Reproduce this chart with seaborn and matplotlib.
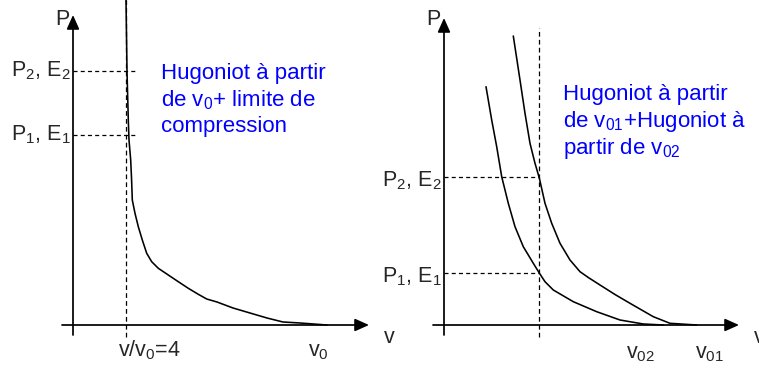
import matplotlib
matplotlib.use("Agg")
import matplotlib.pyplot as plt
import seaborn as sns

# ---- left panel: Hugoniot from v0 with its compression limit ----
hug0_v = [53, 54, 55.3, 56, 57.7, 58.6, 59.3, 62, 65.3, 69.3, 73.7, 78.7, 85.3, 95.3, 105.3,
          115.3, 125.3, 133.7, 144, 160, 177, 194, 210, 227, 254]
hug0_P = [325, 254, 205, 185, 165, 145, 125, 111.7, 98.3, 85, 71.7, 63.3, 56.7, 50, 43.3,
          36.7, 30.7, 26, 23, 17, 12, 7, 3, 2, 0]
v_limit = 53
left_levels = [190, 254]
left_level_labels = ["P$_1$, E$_1$", "P$_2$, E$_2$"]
left_tick_pos = [76, 245]
left_tick_labels = ["v/v$_0$=4", "v$_0$"]
left_note = ["Hugoniot à partir", "de v$_0$+ limite de", "compression"]

# ---- right panel: Hugoniots from v01 and from v02 ----
hug01_v = [69.3, 76, 81, 86, 91, 95.3, 101, 107.7, 116, 126, 136, 144.3, 156, 171,
           186, 209.3, 226, 252.7]
hug01_P = [289, 245, 211.7, 181.7, 161.7, 147, 121.7, 101.7, 81.7, 65, 53.3, 47.5, 40, 30.5,
           21.7, 8.3, 1.7, 0]
hug02_v = [42, 47.7, 52.7, 57.7, 64.3, 71, 79.3, 89.3, 95.3, 101, 109.3, 129.3, 152.7,
           176, 199.3, 219.3]
hug02_P = [238.3, 205, 178.3, 148.3, 121.7, 98.3, 78.3, 61.7, 52, 43.3, 35, 23.3, 13.3,
           5, 1, 0]
v_cross = 95
right_levels = [52, 148]
right_level_labels = ["P$_1$, E$_1$", "P$_2$, E$_2$"]
right_tick_pos = [196.5, 265.5]
right_tick_labels = ["v$_{02}$", "v$_{01}$"]
right_note = ["Hugoniot à partir", "de v$_{01}$+Hugoniot à", "partir de v$_{02}$"]

sns.set_style("white")
plt.rcParams["font.family"] = ["Liberation Sans", "DejaVu Sans"]
plt.rcParams["mathtext.fontset"] = "custom"
plt.rcParams["mathtext.rm"] = "Liberation Sans"
plt.rcParams["mathtext.it"] = "Liberation Sans:italic"
plt.rcParams["mathtext.default"] = "regular"
plt.rcParams["lines.scale_dashes"] = False

FS = 15.5
FS_NOTE = 16
BLUE = "#0000ff"
DASH_H = (0, (2.9, 2.3))
DASH_V = (0, (3.4, 2.3))

fig = plt.figure(figsize=(7.59, 3.65), dpi=100)


def panel(origin_x, x_tip, y_tip):
    ax = fig.add_axes([0, 0, 1, 1])
    ax.set_xlim(-origin_x, 759 - origin_x)
    ax.set_ylim(-40, 325)
    ax.set_axis_off()
    ax.patch.set_alpha(0)
    head = dict(arrowstyle="-|>,head_length=0.85,head_width=0.38",
                mutation_scale=10, lw=1.25, color="black",
                shrinkA=0, shrinkB=0)
    ax.annotate("", xy=(0, y_tip), xytext=(0, -10), arrowprops=head)
    ax.annotate("", xy=(x_tip, 0), xytext=(-11, 0), arrowprops=head)
    ax.text(-11, 300, "P", fontsize=FS, ha="center", va="baseline")
    return ax


def levels(ax, values, labels, x_end, offset):
    for p, lab in zip(values, labels):
        ax.plot([0, x_end], [p, p], color="black", lw=0.9, ls=DASH_H)
        ax.text(-2, p - offset, lab, fontsize=FS, ha="right", va="baseline")


def note(ax, x, baselines, lines):
    for b, line in zip(baselines, lines):
        ax.text(x, b, line, fontsize=FS_NOTE, color=BLUE, ha="left", va="baseline")


def curve(ax, v, p):
    sns.lineplot(x=v, y=p, sort=False, estimator=None, color="black",
                 linewidth=1.15, ax=ax, solid_joinstyle="round")


# left panel
axL = panel(73, 296, 310)
axL.plot([v_limit, v_limit], [-12, 325], color="black", lw=0.9, ls=DASH_V)
curve(axL, hug0_v, hug0_P)
levels(axL, left_levels, left_level_labels, 64, 5.5)
for pos, lab in zip(left_tick_pos, left_tick_labels):
    axL.text(pos, -31, lab, fontsize=FS, ha="center", va="baseline")
axL.text(316, -18, "v", fontsize=FS, ha="center", va="baseline")
note(axL, 88, [246, 219, 193], left_note)

# right panel
axR = panel(444, 295, 307)
axR.plot([v_cross, v_cross], [-12, 297], color="black", lw=0.9, ls=DASH_V)
curve(axR, hug01_v, hug01_P)
curve(axR, hug02_v, hug02_P)
levels(axR, right_levels, right_level_labels, v_cross, 9)
for pos, lab in zip(right_tick_pos, right_tick_labels):
    axR.text(pos, -33, lab, fontsize=FS, ha="center", va="baseline")
axR.text(310, -18, "v", fontsize=FS, ha="left", va="baseline")
note(axR, 119, [225, 198, 171], right_note)

fig.savefig("out.png", dpi=100)
